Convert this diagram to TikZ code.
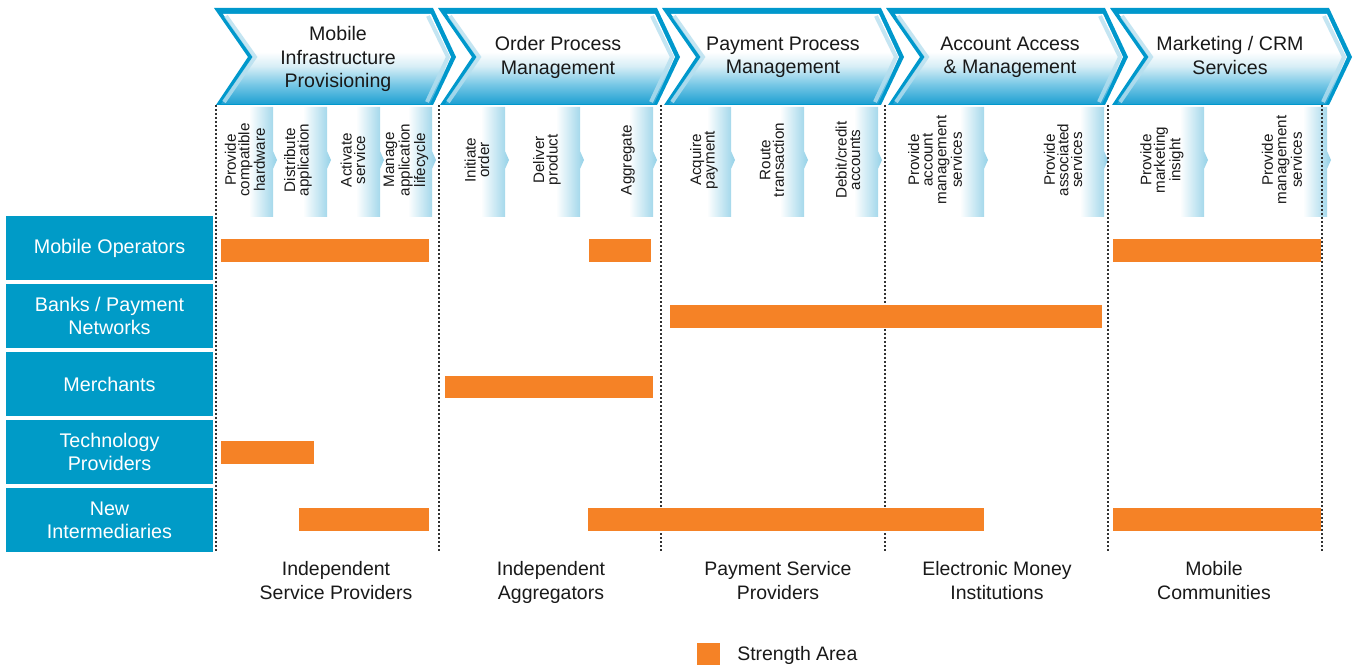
\documentclass[tikz,border=0pt]{standalone}
\usepackage{fontspec}
\setmainfont{Liberation Sans}
\definecolor{lblue}{RGB}{0,155,199}
\definecolor{cblue}{RGB}{0,152,204}
\definecolor{chevbot}{RGB}{30,160,210}
\definecolor{chevmid}{RGB}{120,200,230}
\definecolor{chevlight}{RGB}{215,238,246}
\definecolor{sblue}{RGB}{150,210,232}
\definecolor{orng}{RGB}{245,130,38}
\definecolor{dgray}{RGB}{50,50,50}
\definecolor{txt}{RGB}{25,25,25}
\pgfdeclareverticalshading{chevshade}{100bp}{color(0bp)=(chevbot); color(25bp)=(chevbot); color(36bp)=(chevmid); color(46bp)=(chevlight); color(54bp)=(white); color(100bp)=(white)}
\begin{document}
\begin{tikzpicture}[x=0.75pt,y=-0.75pt,
  chevtext/.style={align=center, font=\fontsize{14.7}{17.6}\selectfont, text=txt, inner sep=0pt},
  steptext/.style={align=center, rotate=90, font=\fontsize{11.4}{10.2}\selectfont, text=txt, inner sep=0pt},
  rowlab/.style={fill=lblue, text=white, align=center, minimum width=155.25pt, minimum height=48pt, inner sep=0pt, font=\fontsize{14.8}{17.4}\selectfont},
  botlab/.style={align=center, font=\fontsize{14.6}{18}\selectfont, text=txt, inner sep=0pt},
  bar/.style={fill=orng},
  sepline/.style={dgray, line width=1.1pt, dash pattern=on 1.5pt off 1.5pt},
  stepband/.style={left color=white, right color=sblue},
  bevel/.style={line width=3pt, sblue!70, opacity=0.8}
]
\useasboundingbox (0,0) rectangle (1354,666);

% chevrons
\foreach \xl in {214,438,662,886,1110}{
  \fill[cblue] (\xl,8) -- ({\xl+219},8) -- ({\xl+242},57) -- ({\xl+219},105) -- ({\xl+2},105) -- ({\xl+34},57) -- cycle;
  \shade[shading=chevshade] ({\xl+9},14) -- ({\xl+217},14) -- ({\xl+237},57) -- ({\xl+216},104) -- ({\xl+7},104) -- ({\xl+39},57) -- cycle;
  \draw[bevel] ({\xl+12},16) -- ({\xl+41},57) -- ({\xl+10},102);
  \draw[bevel] ({\xl+214},16) -- ({\xl+234},57) -- ({\xl+213},102);
}
\node[chevtext] (c1) at (338,59) {Mobile\\Infrastructure\\Provisioning};
\node[chevtext] (c2) at (558,57.5) {Order Process\\Management};
\node[chevtext] (c3) at (783,57.5) {Payment Process\\Management};
\node[chevtext] (c4) at (1010,57.5) {Account Access\\\& Management};
\node[chevtext] (c5) at (1230,55.5) {Marketing / CRM\\Services};

% sub-step bands
\foreach \xe in {273,327,380,432,505,580,653,731,804,878,984,1104,1204,1327}{
  \shade[stepband] ({\xe-24},107) -- (\xe,107) -- (\xe,151) -- ({\xe+4},160) -- (\xe,169) -- (\xe,217) -- ({\xe-24},217) -- cycle;
}
\foreach \x/\t [count=\k] in {
  245/{Provide\\compatible\\hardware},
  298/{Distribute\\application},
  353/{Activate\\service},
  406/{Manage\\application\\lifecycle},
  477/{Initiate\\order},
  547/{Deliver\\product},
  628/{Aggregate},
  704/{Acquire\\payment},
  772/{Route\\transaction},
  848/{Debit/credit\\accounts},
  935/{Provide\\account\\management\\services},
  1063/{Provide\\associated\\services},
  1162/{Provide\\marketing\\insight},
  1282/{Provide\\management\\services}}{
  \node[steptext] (s\k) at (\x,160) {\t};
}

% separators
\foreach \x in {216,439,661,885,1108,1322}{
  \draw[sepline] (\x,105) -- (\x,552);
}

% row labels
\node[rowlab] (r1) at (109.5,248) {Mobile Operators};
\node[rowlab] (r2) at (109.5,316) {Banks / Payment\\Networks};
\node[rowlab] (r3) at (109.5,384) {Merchants};
\node[rowlab] (r4) at (109.5,452) {Technology\\Providers};
\node[rowlab] (r5) at (109.5,520) {New\\Intermediaries};

% strength bars
\fill[bar] (221,239) rectangle (429,262);
\fill[bar] (589,239) rectangle (651,262);
\fill[bar] (1113,239) rectangle (1321,262);
\fill[bar] (670,305) rectangle (1102,328);
\fill[bar] (445,376) rectangle (653,398);
\fill[bar] (221,441) rectangle (314,464);
\fill[bar] (299,508) rectangle (429,531);
\fill[bar] (588,508) rectangle (984,531);
\fill[bar] (1113,508) rectangle (1321,531);

% bottom labels
\node[botlab] (b1) at (336,581) {Independent\\Service Providers};
\node[botlab] (b2) at (551,582) {Independent\\Aggregators};
\node[botlab] (b3) at (778,581) {Payment Service\\Providers};
\node[botlab] (b4) at (997,581) {Electronic Money\\Institutions};
\node[botlab] (b5) at (1214,581) {Mobile\\Communities};

% legend
\fill[bar] (697,643) rectangle (720,665);
\node[botlab, anchor=west] (leg) at (737,655) {Strength Area};
\end{tikzpicture}
\end{document}
